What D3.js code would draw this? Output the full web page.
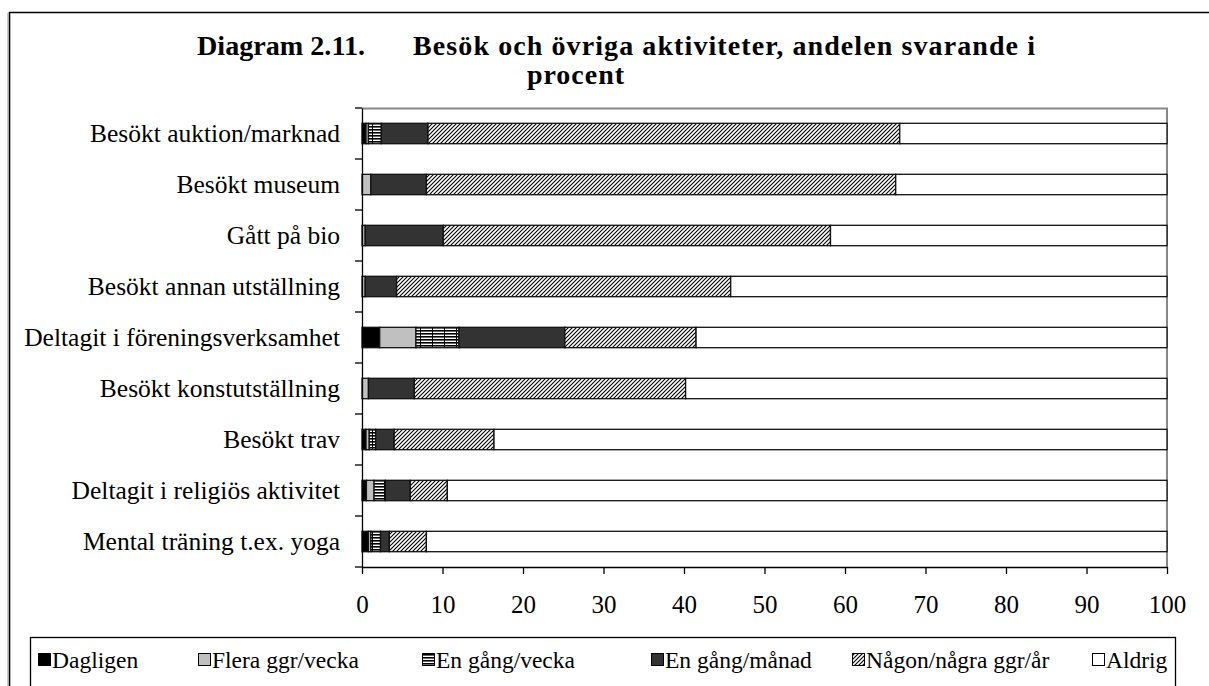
<!DOCTYPE html>
<html>
<head>
<meta charset="utf-8">
<script src="https://cdn.jsdelivr.net/npm/d3@7"></script>
<style>
  body { margin: 0; background: #fff; }
  svg { display: block; }
</style>
</head>
<body>
<div id="chart"></div>
<script>
// categories, top to bottom
const categories = [
  'Besökt auktion/marknad',
  'Besökt museum',
  'Gått på bio',
  'Besökt annan utställning',
  'Deltagit i föreningsverksamhet',
  'Besökt konstutställning',
  'Besökt trav',
  'Deltagit i religiös aktivitet',
  'Mental träning t.ex. yoga'
];

const seriesNames = ['Dagligen', 'Flera ggr/vecka', 'En gång/vecka', 'En gång/månad', 'Någon/några ggr/år', 'Aldrig'];

// percent of respondents
const dagligen = [0.5, 0, 0, 0, 2.2, 0, 0.5, 0.55, 0.8];
const fleraGgrVecka = [0.3, 1.1, 0.4, 0.4, 4.5, 0.8, 0.4, 0.95, 0.3];
const enGangVecka = [1.6, 0, 0, 0, 5.35, 0, 0.8, 1.4, 1.2];
const enGangManad = [5.8, 6.9, 9.7, 3.9, 13.15, 5.7, 2.3, 3.1, 1.1];
const nagonGgrAr = [58.6, 58.3, 48.1, 41.5, 16.3, 33.7, 12.4, 4.6, 4.6];
const aldrig = [33.2, 33.7, 41.8, 54.2, 58.5, 59.8, 83.6, 89.4, 92.0];

const xTicks = [0, 10, 20, 30, 40, 50, 60, 70, 80, 90, 100];

const width = 1209, height = 686;
const marginLeft = 362, marginRight = 42, marginTop = 108, marginBottom = 119;
const serif = '"Liberation Serif", "Times New Roman", Times, serif';

const rows = categories.map((c, i) => ({
  cat: c,
  'Dagligen': dagligen[i],
  'Flera ggr/vecka': fleraGgrVecka[i],
  'En gång/vecka': enGangVecka[i],
  'En gång/månad': enGangManad[i],
  'Någon/några ggr/år': nagonGgrAr[i],
  'Aldrig': aldrig[i]
}));

const stacked = d3.stack().keys(seriesNames)(rows);

const x = d3.scaleLinear().domain([0, 100]).range([marginLeft, width - marginRight]);
const y = d3.scaleBand().domain(categories)
  .range([marginTop, height - marginBottom])
  .paddingInner(0.6).paddingOuter(0.3);

const fills = {
  'Dagligen': '#000',
  'Flera ggr/vecka': '#c0c0c0',
  'En gång/vecka': 'url(#pat-hlines)',
  'En gång/månad': '#333',
  'Någon/några ggr/år': 'url(#pat-diag)',
  'Aldrig': '#fff'
};

const svg = d3.select('#chart').append('svg')
  .attr('width', width)
  .attr('height', height)
  .attr('viewBox', [0, 0, width, height])
  .attr('font-family', serif);

// patterns
const defs = svg.append('defs');
const ph = defs.append('pattern')
  .attr('id', 'pat-hlines')
  .attr('patternUnits', 'userSpaceOnUse')
  .attr('width', 12).attr('height', 3);
ph.append('rect').attr('width', 12).attr('height', 3).attr('fill', '#fff');
ph.append('rect').attr('width', 12).attr('height', 1.6).attr('fill', '#000');
ph.append('rect').attr('width', 1).attr('height', 3).attr('fill', '#000');

const pd = defs.append('pattern')
  .attr('id', 'pat-diag')
  .attr('patternUnits', 'userSpaceOnUse')
  .attr('width', 4).attr('height', 4);
pd.append('rect').attr('width', 4).attr('height', 4).attr('fill', '#fff');
pd.append('path')
  .attr('d', 'M-1,1 l2,-2 M0,4 l4,-4 M3,5 l2,-2')
  .attr('stroke', '#000')
  .attr('stroke-width', 1.1);

// outer frame (only top and left visible)
svg.append('path')
  .attr('d', `M9.5,${height + 10} V12.5 H${width + 10}`)
  .attr('fill', 'none')
  .attr('stroke', '#000')
  .attr('stroke-width', 1.6);
svg.append('line')
  .attr('x1', 8).attr('x2', 8).attr('y1', 13).attr('y2', height + 10)
  .attr('stroke', '#999').attr('stroke-width', 1);

// title
const title = svg.append('text')
  .attr('font-weight', 'bold')
  .attr('font-size', 28)
  .attr('fill', '#000');
title.append('tspan').attr('x', 197).attr('y', 55)
  .attr('textLength', 168).attr('lengthAdjust', 'spacingAndGlyphs')
  .text('Diagram 2.11.');
title.append('tspan').attr('x', 413).attr('y', 55)
  .attr('textLength', 622).attr('lengthAdjust', 'spacing')
  .text('Besök och övriga aktiviteter, andelen svarande i');
svg.append('text')
  .attr('x', 576).attr('y', 84)
  .attr('text-anchor', 'middle')
  .attr('font-weight', 'bold')
  .attr('font-size', 28)
  .attr('letter-spacing', 1)
  .text('procent');

// plot area border (grey, top and right)
svg.append('path')
  .attr('d', `M${x(0)},${marginTop + 0.5} H${x(100)} V${height - marginBottom}`)
  .attr('fill', 'none')
  .attr('stroke', '#888')
  .attr('stroke-width', 2);

// bars
svg.append('g')
  .selectAll('g')
  .data(stacked)
  .join('g')
  .attr('fill', d => fills[d.key])
  .selectAll('rect')
  .data(d => d.filter(s => s[1] - s[0] > 0))
  .join('rect')
  .attr('x', d => x(d[0]))
  .attr('y', d => y(d.data.cat))
  .attr('width', d => x(d[1]) - x(d[0]))
  .attr('height', y.bandwidth())
  .attr('stroke', '#111')
  .attr('stroke-width', 1.3);

// x axis
svg.append('g')
  .attr('transform', `translate(0,${height - marginBottom})`)
  .call(d3.axisBottom(x).tickValues(xTicks).tickSize(7).tickSizeOuter(0).tickFormat(d3.format('d')))
  .attr('font-family', serif)
  .call(g => g.select('.domain').attr('stroke', '#000').attr('stroke-width', 1.3))
  .call(g => g.selectAll('.tick line').attr('stroke', '#000').attr('stroke-width', 1.3))
  .call(g => g.selectAll('.tick text')
    .attr('y', 46).attr('dy', 0)
    .attr('fill', '#000')
    .attr('font-size', 25));

// y axis
svg.append('g')
  .attr('transform', `translate(${marginLeft},0)`)
  .call(d3.axisLeft(y).tickSize(0).tickPadding(22))
  .attr('font-family', serif)
  .call(g => g.select('.domain').attr('stroke', '#000').attr('stroke-width', 1.3))
  .call(g => g.selectAll('.tick text')
    .attr('fill', '#000')
    .attr('font-size', 25.5))
  .call(g => g.selectAll('.bound')
    .data(d3.range(categories.length + 1))
    .join('line')
    .attr('class', 'bound')
    .attr('x1', -7).attr('x2', 0)
    .attr('y1', i => y.range()[0] + i * y.step())
    .attr('y2', i => y.range()[0] + i * y.step())
    .attr('stroke', '#000').attr('stroke-width', 1.3));

// legend
const legend = svg.append('g');
legend.append('rect')
  .attr('x', 30.5).attr('y', 637.5)
  .attr('width', 1145).attr('height', 80)
  .attr('fill', '#fff')
  .attr('stroke', '#000')
  .attr('stroke-width', 1.3);

const legendX = [38, 198, 422, 651, 852, 1092];
seriesNames.forEach((name, i) => {
  const item = legend.append('g').attr('transform', `translate(${legendX[i]},0)`);
  item.append('rect')
    .attr('x', 0.5).attr('y', 653.5)
    .attr('width', 12).attr('height', 12)
    .attr('fill', fills[name])
    .attr('stroke', '#000')
    .attr('stroke-width', 1);
  item.append('text')
    .attr('x', 14).attr('y', 668)
    .attr('font-size', 23.5)
    .attr('fill', '#000')
    .text(name);
});
</script>
</body>
</html>
